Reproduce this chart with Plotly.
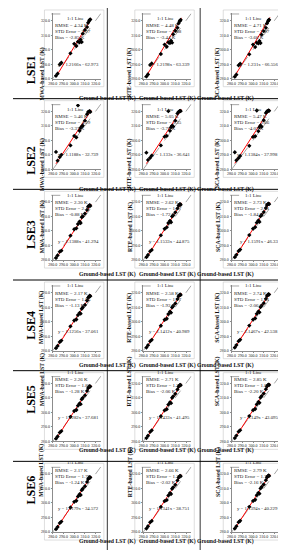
import plotly.graph_objects as go

# ---------------- data ----------------
rows = ["LSE1", "LSE2", "LSE3", "LSE4", "LSE5", "LSE6"]
methods = ["MWA", "RTE", "SCA"]
ground = [283.0, 284.5, 286.5, 288.0, 296.5, 300.0, 302.0, 303.5, 305.0,
          306.0, 307.0, 308.0, 310.0, 312.0, 313.0, 314.0, 314.5, 315.0]

mwa1 = [282.0, 283.5, 289.8, 291.0, 297.5, 304.0, 302.5, 305.5, 305.0, 306.8, 305.2, 311.0, 313.5, 315.5, 318.5, 319.8, 320.5, 320.8]
rte1 = [281.5, 283.0, 289.5, 290.5, 297.0, 303.5, 302.0, 305.0, 304.5, 306.2, 304.8, 310.5, 313.0, 315.0, 318.0, 319.5, 320.0, 320.5]
sca1 = [281.3, 282.8, 289.2, 290.3, 296.8, 303.5, 301.8, 304.8, 304.3, 306.0, 304.5, 310.3, 312.8, 315.0, 318.0, 319.5, 320.2, 320.6]
mwa2 = [292.0, 286.0, 288.5, 290.0, 296.5, 303.0, 302.0, 324.0, 306.5, 308.5, 309.5, 310.0, 313.5, 318.0, 319.5, 319.8, 320.0, 319.5]
rte2 = [291.5, 286.5, 288.0, 289.5, 296.5, 302.5, 303.0, 320.0, 306.5, 309.0, 310.0, 309.5, 313.5, 318.5, 319.5, 320.0, 320.3, 320.0]
sca2 = [291.8, 286.3, 287.8, 289.3, 296.2, 302.3, 302.8, 320.5, 306.3, 309.0, 310.2, 309.3, 313.8, 318.8, 319.8, 320.3, 320.5, 320.3]
mwa3 = [281.5, 283.2, 285.8, 286.5, 296.8, 301.2, 301.8, 304.8, 306.5, 305.5, 309.5, 310.0, 312.0, 314.5, 316.8, 317.5, 317.8, 317.2]
rte3 = [282.0, 283.5, 286.0, 287.0, 297.0, 301.5, 302.5, 305.5, 307.0, 306.0, 310.0, 310.8, 312.8, 315.5, 317.5, 318.3, 318.5, 318.0]
sca3 = [282.0, 283.6, 286.2, 287.2, 297.2, 301.6, 302.6, 305.7, 307.2, 306.2, 310.2, 311.0, 313.0, 315.8, 317.8, 318.6, 318.8, 318.4]
mwa4 = [281.8, 283.3, 286.0, 287.0, 296.8, 300.8, 301.5, 304.5, 306.0, 305.5, 308.8, 309.8, 311.5, 314.5, 316.5, 317.3, 317.8, 317.5]
rte4 = [282.2, 283.8, 286.5, 287.5, 297.2, 301.3, 302.0, 305.2, 306.8, 306.2, 309.8, 310.8, 312.5, 315.5, 317.5, 318.3, 318.7, 318.4]
sca4 = [282.2, 283.9, 286.6, 287.6, 297.3, 301.4, 302.2, 305.4, 307.0, 306.4, 310.0, 311.0, 312.7, 315.7, 317.7, 318.5, 318.9, 318.6]
mwa5 = [281.9, 283.4, 286.1, 287.1, 296.9, 300.9, 301.6, 304.6, 306.1, 305.6, 309.0, 310.0, 311.7, 314.7, 316.7, 317.5, 318.0, 317.7]
rte5 = [282.3, 283.9, 286.6, 287.6, 297.3, 301.4, 302.1, 305.3, 306.9, 306.3, 310.0, 311.0, 312.7, 315.7, 317.7, 318.5, 318.9, 318.6]
sca5 = [282.3, 284.0, 286.7, 287.7, 297.4, 301.5, 302.3, 305.5, 307.1, 306.5, 310.2, 311.2, 312.9, 315.9, 317.9, 318.7, 319.1, 318.8]
mwa6 = [282.0, 283.5, 286.2, 287.2, 296.9, 300.8, 301.5, 304.5, 306.0, 305.5, 308.8, 309.8, 311.5, 314.5, 316.5, 317.3, 317.8, 317.5]
rte6 = [282.4, 284.0, 286.7, 287.7, 297.3, 301.3, 302.0, 305.2, 306.8, 306.2, 309.8, 310.8, 312.5, 315.5, 317.5, 318.3, 318.7, 318.4]
sca6 = [282.4, 284.1, 286.8, 287.8, 297.4, 301.4, 302.2, 305.4, 307.0, 306.4, 310.0, 311.0, 312.7, 315.7, 317.7, 318.5, 318.9, 318.6]
series = [[mwa1, rte1, sca1], [mwa2, rte2, sca2], [mwa3, rte3, sca3],
          [mwa4, rte4, sca4], [mwa5, rte5, sca5], [mwa6, rte6, sca6]]

slopes = [[1.2166, 1.2198, 1.231], [1.1188, 1.133, 1.1384], [1.1388, 1.1533, 1.1591],
          [1.1256, 1.1412, 1.1467], [1.1282, 1.1433, 1.149], [1.1179, 1.1341, 1.1394]]
intercepts = [[-62.973, -63.339, -66.556], [-32.739, -36.641, -37.998], [-41.294, -44.875, -46.33],
              [-37.061, -40.989, -42.538], [-37.681, -41.495, -43.095], [-34.572, -38.751, -40.229]]
rmse = [["4.34", "4.48", "4.71"], ["5.46", "5.05", "5.47"], ["2.30", "2.62", "2.73"],
        ["2.17", "2.58", "2.74"], ["2.26", "2.71", "2.85"], ["2.17", "2.66", "2.79"]]
std_err = [["3.27", "2.88", "2.97"], ["4.29", "3.35", "3.66"], ["2.12", "1.97", "2.01"],
           ["1.86", "1.77", "1.81"], ["1.86", "1.77", "1.81"], ["1.79", "1.73", "1.77"]]
bias = [["-2.85", "-3.44", "-3.66"], ["-3.37", "-3.78", "-4.07"], ["-0.88", "-1.72", "-1.84"],
        ["-1.13", "-1.93", "-2.06"], ["-1.28", "-2.06", "-2.20"], ["-1.24", "-2.02", "-2.16"]]
tick_vals = [280, 290, 300, 310, 320]
tick_text = ["280.0", "290.0", "300.0", "310.0", "320.0"]
axis_range = [280, 325]

# ---------------- geometry (pixels) ----------------
W, H = 286, 550
ROW_H = 91
X280 = [40.5, 132.5, 222.5]      # pixel of x=280 per column
KX = 1.09                         # px per K horizontally
Y280 = 71                         # local pixel of y=280
KY = 1.46
YTITLE_X = [24, 119, 214]
FONT = "Liberation Serif"

def fx(px):
    return px / W

def fy(py):
    return 1 - py / H

fig = go.Figure()
layout_axes = {}
annotations = []
shapes = []

for r in range(6):
    top = r * ROW_H
    for c in range(3):
        i = r * 3 + c + 1
        xa = "x" if i == 1 else f"x{i}"
        ya = "y" if i == 1 else f"y{i}"
        x0 = X280[c]
        x1 = x0 + (axis_range[1] - axis_range[0]) * KX
        yb = top + Y280
        yt = yb - (axis_range[1] - axis_range[0]) * KY
        ax_common = dict(range=axis_range, tickvals=tick_vals, ticktext=tick_text,
                         showgrid=False, zeroline=False, showline=True,
                         linecolor="#8c8c8c", linewidth=0.7, ticks="outside",
                         ticklen=1.2, tickcolor="#8c8c8c", tickwidth=0.6, tickangle=0,
                         tickfont=dict(size=4.0, family=FONT, color="#222"))
        layout_axes["xaxis" if i == 1 else f"xaxis{i}"] = dict(
            ax_common, domain=[fx(x0), fx(x1)], anchor=ya, ticklabelstandoff=-1)
        layout_axes["yaxis" if i == 1 else f"yaxis{i}"] = dict(
            ax_common, domain=[fy(yb), fy(yt)], anchor=xa)

        # chart frame
        shapes.append(dict(type="rect", xref="paper", yref="paper",
                           x0=fx(x0 - 8.5), x1=fx(x0 + 52), y0=fy(top + 79), y1=fy(top + 2),
                           line=dict(color="#c8c8c8", width=0.6)))

        # 1:1 line
        fig.add_trace(go.Scatter(x=axis_range, y=axis_range, mode="lines",
                                 line=dict(color="#808080", width=0.7, dash="dash"),
                                 xaxis=xa, yaxis=ya, showlegend=False, hoverinfo="skip"))
        # regression line
        xs = [min(ground), max(ground) + 0.8]
        ys = [slopes[r][c] * v + intercepts[r][c] for v in xs]
        fig.add_trace(go.Scatter(x=xs, y=ys, mode="lines",
                                 line=dict(color="#ff0000", width=1),
                                 xaxis=xa, yaxis=ya, showlegend=False, hoverinfo="skip"))
        # points
        fig.add_trace(go.Scatter(x=ground, y=series[r][c], mode="markers",
                                 marker=dict(symbol="diamond", size=3.3, color="#000"),
                                 xaxis=xa, yaxis=ya, showlegend=False))

        # axis titles
        annotations.append(dict(x=fx(YTITLE_X[c]), y=fy(top + 38), xref="paper", yref="paper",
                                text=f"<b>{methods[c]}-based LST (K)</b>", textangle=-90,
                                showarrow=False, font=dict(size=5.8, family=FONT, color="#111")))
        annotations.append(dict(x=fx(x0 + 24.5), y=fy(top + 85.8), xref="paper", yref="paper",
                                text="<b>Ground-based LST (K)</b>",
                                showarrow=False, font=dict(size=5.7, family=FONT, color="#111")))
        # legend entry
        shapes.append(dict(type="line", xref="paper", yref="paper",
                           x0=fx(x0 - 1.5), x1=fx(x0 + 9.5), y0=fy(top + 6), y1=fy(top + 6),
                           line=dict(color="#808080", width=0.7, dash="dash")))
        annotations.append(dict(x=fx(x0 + 12), y=fy(top + 6), xref="paper", yref="paper",
                                xanchor="left", text="1:1 Line", showarrow=False,
                                font=dict(size=5.0, family=FONT, color="#222")))
        stats = [f"RMSE = {rmse[r][c]} K", f"STD Error = {std_err[r][c]}",
                 f"Bias = {bias[r][c]} K"]
        for k, s in enumerate(stats):
            annotations.append(dict(x=fx(x0 + 0.5), y=fy(top + 13.3 + 6 * k), xref="paper",
                                    yref="paper", xanchor="left", text=s, showarrow=False,
                                    font=dict(size=5.0, family=FONT, color="#222")))
        sign = "-" if intercepts[r][c] < 0 else "+"
        eq = f"y = {slopes[r][c]}x {sign} {abs(intercepts[r][c])}"
        annotations.append(dict(x=fx(x0 + 49.5), y=fy(top + 52), xref="paper", yref="paper",
                                xanchor="right", text=eq, showarrow=False,
                                font=dict(size=4.8, family=FONT, color="#222")))

    annotations.append(dict(x=fx(9), y=fy(top + 45), xref="paper", yref="paper",
                            text=f"<b>{rows[r]}</b>", textangle=-90, showarrow=False,
                            font=dict(size=12, family=FONT, color="#000")))
    # row separator
    shapes.append(dict(type="line", xref="paper", yref="paper", x0=0, x1=1,
                       y0=fy(top + ROW_H), y1=fy(top + ROW_H),
                       line=dict(color="#000", width=1)))

for xv in [96, 190.5]:
    shapes.append(dict(type="line", xref="paper", yref="paper", x0=fx(xv), x1=fx(xv),
                       y0=fy(0), y1=fy(6 * ROW_H), line=dict(color="#000", width=0.8)))

fig.update_layout(width=W, height=H, margin=dict(l=0, r=0, t=0, b=0),
                  paper_bgcolor="white", plot_bgcolor="white",
                  annotations=annotations, shapes=shapes, **layout_axes)
fig.write_html("out.html")
